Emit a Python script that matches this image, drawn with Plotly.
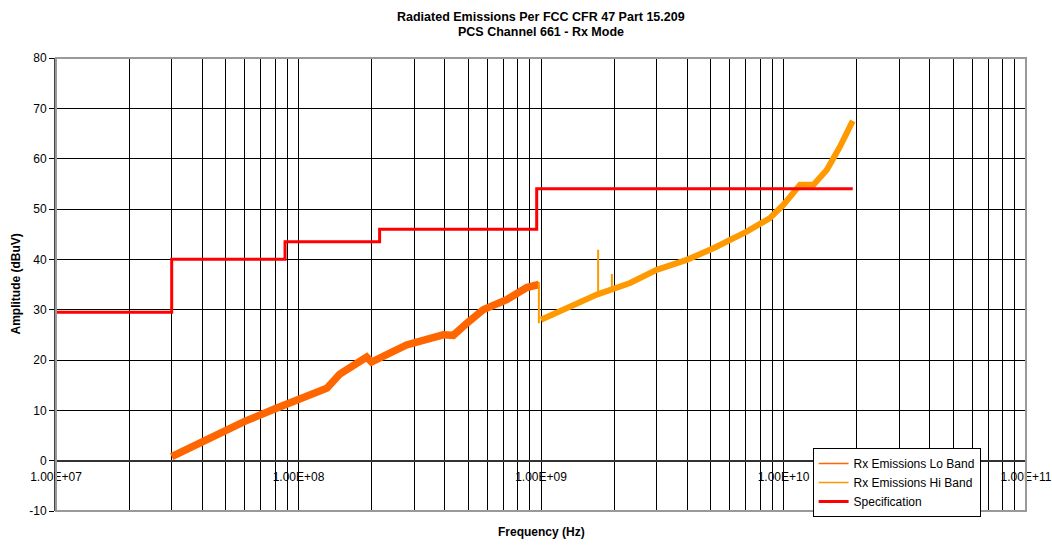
import plotly.graph_objects as go

# ---- data ----
lo_freq = [3.0e7, 4.0e7, 6.0e7, 8.1e7, 1.01e8, 1.31e8, 1.48e8, 1.63e8, 1.91e8, 2.0e8,
           2.79e8, 3.95e8, 4.35e8, 4.94e8, 5.78e8, 7.22e8, 8.73e8, 9.8e8]
lo_amp = [0.8, 3.8, 7.8, 10.4, 12.1, 14.4, 17.2, 18.6, 20.6, 19.6,
          23.0, 25.0, 24.9, 27.3, 30.0, 32.0, 34.4, 35.0]

hi_freq = [1.0e9, 1.24e9, 1.70e9, 2.33e9, 3.0e9, 3.99e9, 5.14e9, 7.05e9, 8.79e9,
           9.98e9, 1.17e10, 1.33e10, 1.51e10, 1.71e10, 1.93e10]
hi_amp = [28.0, 30.0, 33.0, 35.3, 37.9, 39.9, 42.2, 45.5, 48.2,
          50.8, 54.8, 54.8, 57.8, 62.4, 67.5]

spike_freq = [9.8e8, 1.72e9, 1.96e9]
spike_base = [27.3, 33.2, 34.0]
spike_top = [35.5, 41.9, 37.1]

spec_freq = [1.0e7, 3.0e7, 8.8e7, 2.16e8, 9.6e8, 1.93e10]
spec_amp = [29.5, 40.0, 43.5, 46.0, 54.0, 54.0]

x_tickvals = [1e7, 1e8, 1e9, 1e10, 1e11]
x_ticktext = ["1.00E+07", "1.00E+08", "1.00E+09", "1.00E+10", "1.00E+11"]
y_tickvals = [-10, 0, 10, 20, 30, 40, 50, 60, 70, 80]
y_ticktext = ["-10", "0", "10", "20", "30", "40", "50", "60", "70", "80"]

LO_C = "#FF6600"
HI_C = "#FF9900"
SPEC_C = "#FF0000"
FONT = "Liberation Sans, Arial, sans-serif"

fig = go.Figure()

fig.add_trace(go.Scatter(x=lo_freq, y=lo_amp, mode="lines",
                         line=dict(color=LO_C, width=7.5), showlegend=False, hoverinfo="skip"))

sx, sy = [], []
for f, b, t in zip(spike_freq, spike_base, spike_top):
    sx += [f, f, None]
    sy += [b, t, None]
fig.add_trace(go.Scatter(x=sx, y=sy, mode="lines",
                         line=dict(color=HI_C, width=2), showlegend=False, hoverinfo="skip"))

fig.add_trace(go.Scatter(x=hi_freq, y=hi_amp, mode="lines",
                         line=dict(color=HI_C, width=6), showlegend=False, hoverinfo="skip"))

fig.add_trace(go.Scatter(x=spec_freq, y=spec_amp, mode="lines", line_shape="hv",
                         line=dict(color=SPEC_C, width=3), showlegend=False))

# legend entries (thin line samples like the reference)
fig.add_trace(go.Scatter(x=[None], y=[None], mode="lines", name="Rx Emissions Lo Band",
                         line=dict(color=LO_C, width=1.5)))
fig.add_trace(go.Scatter(x=[None], y=[None], mode="lines", name="Rx Emissions Hi Band",
                         line=dict(color=HI_C, width=1.5)))
fig.add_trace(go.Scatter(x=[None], y=[None], mode="lines", name="Specification",
                         line=dict(color=SPEC_C, width=3)))

minor_vals = [m * 10 ** e for e in range(7, 11) for m in range(2, 10)]

fig.update_layout(
    width=1052, height=546,
    margin=dict(l=56, r=26, t=58, b=35, autoexpand=False),
    paper_bgcolor="white", plot_bgcolor="white",
    font=dict(family=FONT, size=12, color="black"),
    xaxis=dict(type="log", range=[7, 11], tickmode="array", tickvals=x_tickvals, ticktext=x_ticktext,
               showgrid=True, gridcolor="black", gridwidth=1,
               minor=dict(tickmode="array", tickvals=minor_vals, showgrid=True,
                          gridcolor="black", gridwidth=1, ticks=""),
               anchor="free", position=10 / 90, automargin=False,
               showline=True, linecolor="#333333", linewidth=2,
               ticks="outside", ticklen=5, tickcolor="black", ticklabeloverflow="allow",
               zeroline=False, tickfont=dict(size=12)),
    yaxis=dict(range=[-10, 80], tickmode="array", tickvals=y_tickvals, ticktext=y_ticktext,
               showgrid=True, gridcolor="black", gridwidth=1, automargin=False,
               showline=True, linecolor="#444444", linewidth=2,
               ticks="outside", ticklen=5, tickcolor="black", zeroline=False,
               tickfont=dict(size=12)),
    legend=dict(x=0.780, y=0.139, xanchor="left", yanchor="top",
                bgcolor="white", bordercolor="black", borderwidth=1,
                font=dict(size=12), tracegroupgap=0, itemwidth=30),
    shapes=[dict(type="rect", xref="paper", yref="paper", x0=0, x1=1, y0=0, y1=1,
                 line=dict(color="#999999", width=2), layer="above")],
    annotations=[
        dict(text="<b>Radiated Emissions Per FCC CFR 47 Part 15.209</b>", xref="paper", yref="paper",
             x=0.5, y=1 + (58 - 17) / 453, xanchor="center", yanchor="middle", showarrow=False,
             font=dict(size=12.5, weight="bold")),
        dict(text="<b>PCS Channel 661 - Rx Mode</b>", xref="paper", yref="paper",
             x=0.5, y=1 + (58 - 32) / 453, xanchor="center", yanchor="middle", showarrow=False,
             font=dict(size=12.5, weight="bold")),
        dict(text="<b>Frequency (Hz)</b>", xref="paper", yref="paper",
             x=0.5, y=-21 / 453, xanchor="center", yanchor="middle", showarrow=False,
             font=dict(size=12, weight="bold")),
        dict(text="<b>Amplitude (dBuV)</b>", xref="paper", yref="paper",
             x=-41 / 970, y=0.5, xanchor="center", yanchor="middle", showarrow=False,
             textangle=-90, font=dict(size=12, weight="bold")),
    ],
)

fig.write_html("out.html",
               config={"displayModeBar": False, "staticPlot": True},
               post_script="document.body.style.margin='0';document.body.style.overflow='hidden';")
